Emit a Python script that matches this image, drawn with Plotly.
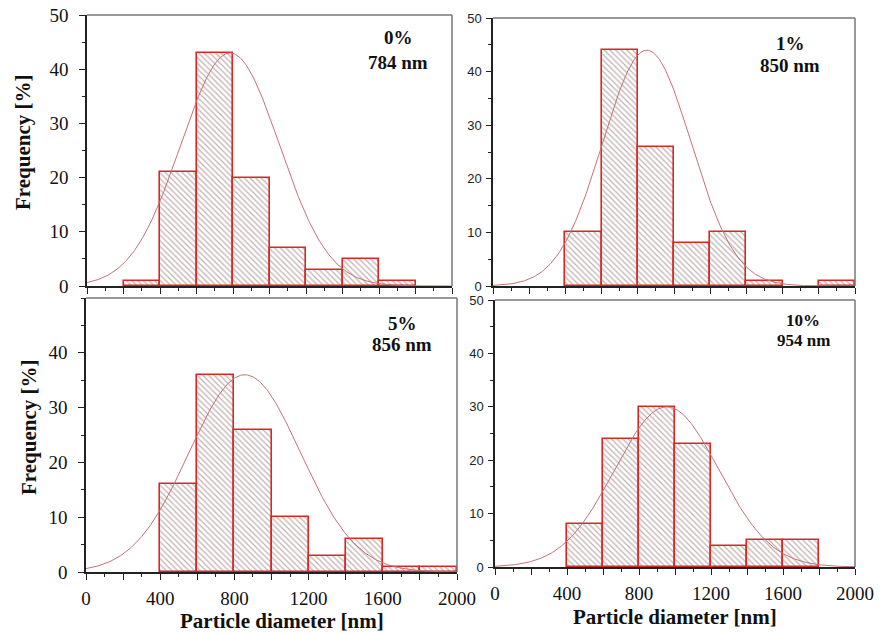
import numpy as np
import plotly.graph_objects as go

# Histogram bins (nm)
bin_centers = [100, 300, 500, 700, 900, 1100, 1300, 1500, 1700, 1900]
bin_width = 200

# Frequency [%] per bin for each concentration (None = empty bin)
freq_0pct = [None, 1, 21, 43, 20, 7, 3, 5, 1, None]
freq_1pct = [None, None, 10, 44, 26, 8, 10, 1, None, 1]
freq_5pct = [None, None, 16, 36, 26, 10, 3, 6, 1, 1]
freq_10pct = [None, None, 8, 24, 30, 23, 4, 5, 5, None]

conc_labels = ["0%", "1%", "5%", "10%"]
mean_diameter = [784, 850, 856, 954]      # nm, fitted mean
fit_sigma = [270, 245, 300, 290]          # nm, fitted width
fit_peak = [43, 44, 36, 30]               # %, fitted peak height

W, H = 883, 634

# panel plot areas in pixels: (left, right, top, bottom)
panels = [
    (87, 452, 15, 286),
    (493, 855, 18, 286),
    (86, 457, 298, 572),
    (495, 855, 300, 567),
]

BAR_EDGE = "rgb(215,40,40)"
HATCH = "rgb(135,100,100)"
CURVE = "rgb(195,115,115)"
SERIF = "Liberation Serif"
SANS = "Liberation Sans"

series = [freq_0pct, freq_1pct, freq_5pct, freq_10pct]

fig = go.Figure()

x_fit = np.linspace(0, 2000, 401)

for i, freq in enumerate(series):
    xa = "x" if i == 0 else f"x{i+1}"
    ya = "y" if i == 0 else f"y{i+1}"
    # hatched fill
    fig.add_trace(go.Bar(
        x=bin_centers, y=freq, width=bin_width,
        xaxis=xa, yaxis=ya, offsetgroup="fill",
        marker=dict(
            color="white",
            line=dict(width=0),
            pattern=dict(shape="\\", size=4, solidity=0.32,
                         fgcolor=HATCH, bgcolor="white"),
        ),
        showlegend=False,
    ))
    # red bar outlines drawn on top of the fill
    fig.add_trace(go.Bar(
        x=bin_centers, y=freq, width=bin_width,
        xaxis=xa, yaxis=ya, offsetgroup="fill",
        marker=dict(color="rgba(0,0,0,0)",
                    line=dict(color=BAR_EDGE, width=1.6)),
        showlegend=False,
    ))
    y_fit = fit_peak[i] * np.exp(-(x_fit - mean_diameter[i]) ** 2 / (2 * fit_sigma[i] ** 2))
    fig.add_trace(go.Scatter(
        x=x_fit, y=y_fit, mode="lines", xaxis=xa, yaxis=ya,
        line=dict(color=CURVE, width=1), showlegend=False,
    ))

x_tickvals = list(range(0, 2001, 200))
x_ticktext = [str(v) if v % 400 == 0 else "" for v in x_tickvals]

layout = dict(
    width=W, height=H,
    margin=dict(l=0, r=0, t=0, b=0, pad=0),
    paper_bgcolor="white", plot_bgcolor="white",
    bargap=0, barmode="overlay",
)

shapes = []
annotations = []

for i, (l, r, t, b) in enumerate(panels):
    sx = "" if i == 0 else str(i + 1)
    left_col = i in (0, 2)
    bottom_row = i in (2, 3)
    ydom = [1 - b / H, 1 - t / H]
    xdom = [l / W, r / W]

    xaxis = dict(
        domain=xdom, anchor="y" + sx, range=[0, 2000], automargin=False,
        tickmode="array", tickvals=x_tickvals,
        ticktext=x_ticktext if bottom_row else [""] * len(x_tickvals),
        ticks="outside", ticklen=6, tickwidth=1.3, tickcolor="#222",
        minor=dict(tickmode="linear", tick0=0, dtick=100, ticks="outside",
                   ticklen=3, tickwidth=1, tickcolor="#222"),
        showline=True, linecolor="#222", linewidth=1.5,
        showgrid=False, zeroline=False,
        tickfont=dict(family=SERIF, size=19, color="#111"),
        ticklabelstandoff=2,
        fixedrange=True,
    )
    if left_col:
        yfont = dict(family=SERIF, size=19, color="#111")
        ystand = 7
    else:
        yfont = dict(family=SANS, size=13, color="#222")
        ystand = 2
    yticks = [0, 10, 20, 30, 40] if i == 2 else [0, 10, 20, 30, 40, 50]
    yaxis = dict(
        domain=ydom, anchor="x" + sx, range=[0, 50], automargin=False,
        tickmode="array", tickvals=yticks,
        ticks="outside", ticklen=6 if left_col else 5,
        tickwidth=1.3, tickcolor="#222",
        minor=dict(tickmode="linear", tick0=0, dtick=5, ticks="outside",
                   ticklen=3, tickwidth=1, tickcolor="#222"),
        showline=True, linecolor="#222", linewidth=1.5,
        showgrid=False, zeroline=False,
        tickfont=yfont, ticklabelstandoff=ystand,
        fixedrange=True,
    )
    layout["xaxis" + sx] = xaxis
    layout["yaxis" + sx] = yaxis

    # gray frame on the top and right edges
    xr = "x" + sx + " domain"
    yr = "y" + sx + " domain"
    shapes.append(dict(type="line", xref=xr, yref=yr, x0=0, x1=1, y0=1, y1=1,
                       line=dict(color="#777", width=1.5)))
    shapes.append(dict(type="line", xref=xr, yref=yr, x0=1, x1=1, y0=0, y1=1,
                       line=dict(color="#777", width=1.5)))

# concentration / mean-size labels
label_pos = [
    (398, 38, 62, 19),
    (790, 43, 65, 19),
    (402, 323, 345, 19),
    (803, 320, 340, 17),
]
for i, (px, py1, py2, fs) in enumerate(label_pos):
    for txt, py in ((conc_labels[i], py1), (f"{mean_diameter[i]} nm", py2)):
        annotations.append(dict(
            xref="paper", yref="paper", x=px / W, y=1 - py / H,
            xanchor="center", yanchor="middle", showarrow=False,
            text=f"<b>{txt}</b>",
            font=dict(family=SERIF, size=fs, color="#111"),
        ))

# axis titles
for (px, py) in ((23, 142), (29, 427)):
    annotations.append(dict(
        xref="paper", yref="paper", x=px / W, y=1 - py / H,
        xanchor="center", yanchor="middle", showarrow=False, textangle=-90,
        text="<b>Frequency [%]</b>",
        font=dict(family=SERIF, size=21, color="#111"),
    ))
for (px, py) in ((282, 621), (675, 617)):
    annotations.append(dict(
        xref="paper", yref="paper", x=px / W, y=1 - py / H,
        xanchor="center", yanchor="middle", showarrow=False,
        text="<b>Particle diameter [nm]</b>",
        font=dict(family=SERIF, size=21, color="#111"),
    ))

layout["shapes"] = shapes
layout["annotations"] = annotations
fig.update_layout(**layout)

fig.write_html("out.html")
